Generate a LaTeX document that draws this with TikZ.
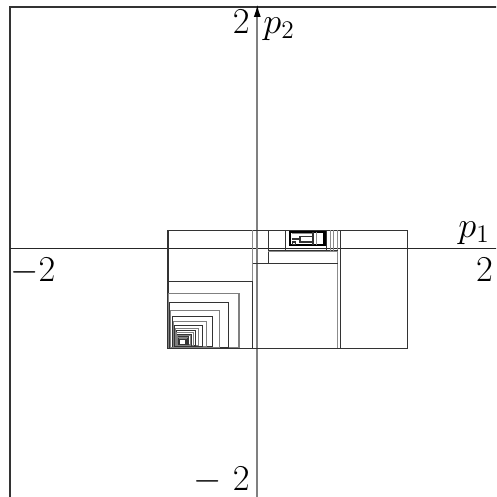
\documentclass[tikz,border=0pt]{standalone}
\usetikzlibrary{arrows.meta}
\tikzstyle{cell} = [draw=black!80, line width=0.6pt]
\tikzstyle{cellgray} = [draw=black!45, line width=0.6pt]
\tikzstyle{axis} = [line width=0.5pt]
\tikzstyle{ticklabel} = [inner sep=0pt, font=\fontsize{21}{25}\selectfont]
\begin{document}
\begin{tikzpicture}[x=2.47cm, y=2.41cm]
\useasboundingbox (-2.081,-2.066) rectangle (1.935,2.058);
\clip (-2.081,-2.066) rectangle (1.935,2.058);

% --- Frame and axes ---
\draw[black!80, line width=0.7pt] (-2,-2.2) -- (-2,2) -- (2.2,2);
\draw[axis, black!85] (-2,0) -- (2.2,0);
\draw[axis, black!50, line width=0.9pt, -{Latex[black,length=7pt,width=4pt]}] (0.002,-2.2) -- (0.002,2.02);

% --- Outer cell and main splits ---
\draw[cell] (-0.721,-0.830) rectangle (1.215,0.149);
\draw[cellgray] (-0.035,0.149) -- (-0.035,-0.830);
\draw[cellgray] (0.653,0.149) -- (0.653,-0.830);
\draw[cell] (0.672,0.149) -- (0.672,-0.830);
\draw[cell] (-0.721,-0.276) -- (-0.035,-0.276);
\draw[cell] (-0.035,-0.127) -- (0.653,-0.127);
\draw[cell] (0.092,0.149) -- (0.092,-0.127);
\draw[cell] (0.092,-0.022) -- (0.653,-0.022);
\draw[cellgray] (0.092,-0.032) -- (0.653,-0.032);
\draw[cell] (0.229,0.149) -- (0.229,-0.022);

% --- Thin cells right of the dense box ---
\draw[cell] (0.563,0.149) -- (0.563,-0.022);
\draw[cellgray] (0.591,0.149) -- (0.591,-0.022);
\draw[cellgray] (0.618,0.149) -- (0.618,-0.022);

% --- Dense box ---
\draw[black, line width=1.3pt] (0.267,0.025) rectangle (0.547,0.133);
\draw[cellgray] (0.281,0.118) -- (0.453,0.118);
\draw[cell] (0.348,0.095) rectangle (0.453,0.050);
\draw[cell] (0.281,0.075) -- (0.348,0.075);
\draw[cell] (0.285,0.050) rectangle (0.310,0.030);
\draw[cell] (0.453,0.133) -- (0.453,0.025);
\draw[cellgray] (0.483,0.133) -- (0.483,0.025);

% --- Nested cells, lower left ---
\foreach \k in {0,...,18} {
  \pgfmathsetmacro{\r}{0.8^\k}
  \pgfmathsetmacro{\xr}{-0.590+0.555*\r}
  \pgfmathsetmacro{\yt}{-0.770+0.494*\r}
  \pgfmathsetmacro{\xl}{-0.721+0.097*(1-\r)^2}
  \pgfmathsetmacro{\yb}{-0.830+0.030*(1-\r)^2}
  \pgfmathtruncatemacro{\shade}{mod(\k,2)==0 ? 80 : 50}
  \draw[draw=black!\shade, line width=0.6pt] (\xl,\yb) rectangle (\xr,\yt);
}

% --- Labels ---
\node (ytop) [ticklabel, anchor=base east] at (-0.057,1.784) {$2$};
\node (ylabel) [ticklabel, anchor=base west] at (0.049,1.784) {$p_2$};
\node (ybot) [ticklabel, anchor=base east] at (-0.057,-2.01) {$-\ 2$};
\node (xleft) [ticklabel, anchor=base west] at (-2.0,-0.274) {$-2$};
\node (xright) [ticklabel, anchor=base east] at (1.911,-0.274) {$2$};
\node (xlabel) [ticklabel, anchor=base west] at (1.628,0.091) {$p_1$};

\end{tikzpicture}
\end{document}
